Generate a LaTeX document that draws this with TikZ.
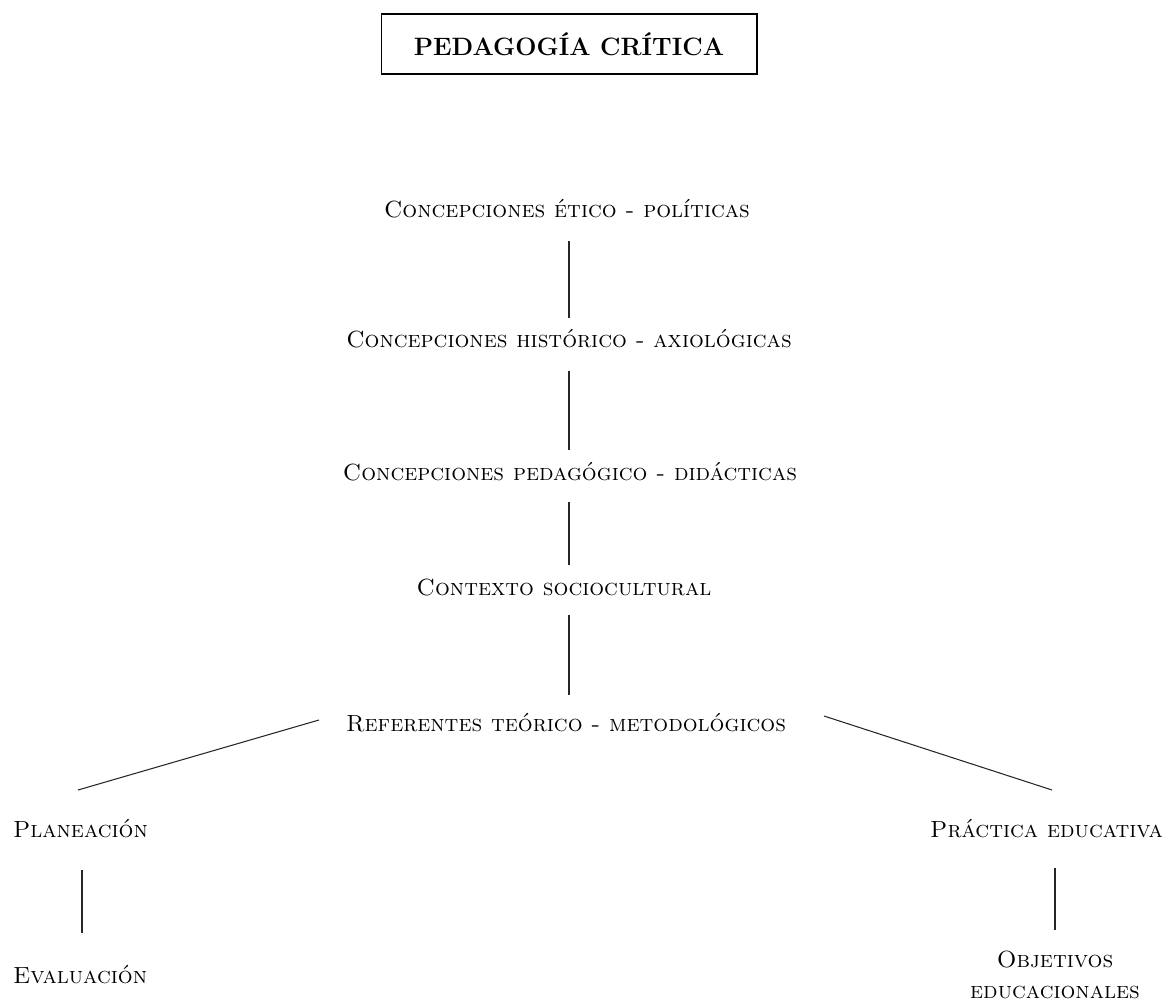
\documentclass[tikz,border=0pt]{standalone}
\usepackage{tikz}

\begin{document}
\begin{tikzpicture}[x=0.02cm,y=-0.02cm,
		concepto/.style={font=\fontsize{13.3}{17.6}\selectfont\scshape, inner sep=0pt, outer sep=0pt},
		linea/.style={line width=0.6pt, black!85}]
		\useasboundingbox (0,0) rectangle (1172,1000);
		
		\node[draw, line width=0.6pt, minimum width=7.52cm, minimum height=1.2cm,
			font=\fontsize{14.3}{17}\selectfont\bfseries] (titulo) at (569,44) {PEDAGOGÍA CRÍTICA};
		
		\node[concepto, anchor=base] (etico) at (567,217) {Concepciones ético - políticas};
		\node[concepto, anchor=base] (historico) at (569,347) {Concepciones histórico - axiológicas};
		\node[concepto, anchor=base] (pedagogico) at (570,480) {Concepciones pedagógico - didácticas};
		\node[concepto, anchor=base] (contexto) at (564,595) {Contexto sociocultural};
		\node[concepto, anchor=base] (referentes) at (566,731) {Referentes teórico - metodológicos};
		\node[concepto, anchor=base west] (planeacion) at (13,837) {Planeación};
		\node[concepto, anchor=base west] (evaluacion) at (13,983) {Evaluación};
		\node[concepto, anchor=base east] (practica) at (1163,837) {Práctica educativa};
		\node[concepto, anchor=base, align=center] (objetivos) at (1055,998) {Objetivos\\educacionales};
		
		\draw[linea] ([shift={(2,24)}]etico.base) -- ([shift={(0,-29)}]historico.base);
		\draw[linea] ([shift={(0,24)}]historico.base) -- ([shift={(-1,-30)}]pedagogico.base);
		\draw[linea] ([shift={(-1,22)}]pedagogico.base) -- ([shift={(5,-30)}]contexto.base);
		\draw[linea] ([shift={(5,20)}]contexto.base) -- ([shift={(3,-36)}]referentes.base);
		\draw[linea] ([shift={(-247,-11)}]referentes.base) -- ([shift={(65,-47)}]planeacion.base west);
		\draw[linea] ([shift={(258,-15)}]referentes.base) -- ([shift={(-111,-47)}]practica.base east);
		\draw[linea] ([shift={(69,33)}]planeacion.base west) -- ([shift={(69,-50)}]evaluacion.base west);
		\draw[linea] ([shift={(-108,31)}]practica.base east) -- ([shift={(0,-68)}]objetivos.base);
	\end{tikzpicture}
\end{document}
